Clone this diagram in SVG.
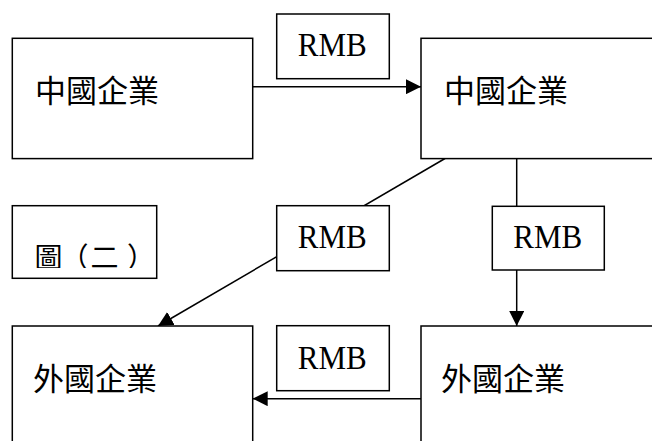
<svg xmlns="http://www.w3.org/2000/svg" width="652" height="441" viewBox="0 0 652 441">
<style>
.box{fill:#fff;stroke:#000;stroke-width:1.5}
.cn{font-family:"Noto Sans CJK TC","Noto Sans CJK SC",sans-serif;font-size:31px;fill:#000}
.fig{font-family:"Noto Sans CJK TC","Noto Sans CJK SC",sans-serif;font-size:28px;fill:#000}
.rmb{font-family:"Liberation Serif","Times New Roman",serif;font-size:33px;fill:#000}
.conn{stroke:#000;stroke-width:1.5;fill:none}
</style>
<defs>
<marker id="arr" markerUnits="userSpaceOnUse" markerWidth="15" markerHeight="15" refX="15" refY="7.5" orient="auto">
<path d="M0,0 L15,7.5 L0,15 z" fill="#000"/>
</marker>
<clipPath id="figclip"><rect x="12" y="205" width="145" height="63"/></clipPath>
</defs>
<g id="connectors">
<line class="conn" x1="252.7" y1="86.7" x2="421" y2="86.7" marker-end="url(#arr)"/>
<line class="conn" x1="516.7" y1="158.5" x2="516.7" y2="326" marker-end="url(#arr)"/>
<line class="conn" x1="445" y1="158.5" x2="158" y2="326" marker-end="url(#arr)"/>
<line class="conn" x1="421" y1="398.7" x2="252.7" y2="398.7" marker-end="url(#arr)"/>
</g>
<g id="cn1">
<rect class="box" x="12.3" y="38.3" width="240.4" height="120.3"/>
<text class="cn" x="35" y="102">中國企業</text>
</g>
<g id="cn2">
<rect class="box" x="421" y="38.3" width="260" height="120.3"/>
<text class="cn" x="444" y="102">中國企業</text>
</g>
<g id="fn1">
<rect class="box" x="12.3" y="326" width="240.4" height="130"/>
<text class="cn" x="33" y="389.5">外國企業</text>
</g>
<g id="fn2">
<rect class="box" x="421" y="326" width="260" height="130"/>
<text class="cn" x="441" y="389.5">外國企業</text>
</g>
<g id="rmb1">
<rect class="box" x="276.7" y="14" width="112.6" height="64.7"/>
<text class="rmb" x="297.7" y="56" textLength="69" lengthAdjust="spacingAndGlyphs">RMB</text>
</g>
<g id="rmb2">
<rect class="box" x="276.7" y="205.7" width="112.6" height="65"/>
<text class="rmb" x="297.7" y="247.7" textLength="69" lengthAdjust="spacingAndGlyphs">RMB</text>
</g>
<g id="rmb3">
<rect class="box" x="492.3" y="206.3" width="112" height="63.7"/>
<text class="rmb" x="513.3" y="248.3" textLength="69" lengthAdjust="spacingAndGlyphs">RMB</text>
</g>
<g id="rmb4">
<rect class="box" x="276.7" y="325.7" width="112.6" height="65"/>
<text class="rmb" x="297.7" y="369.3" textLength="69" lengthAdjust="spacingAndGlyphs">RMB</text>
</g>
<g id="fig">
<rect class="box" x="12.3" y="205.7" width="144.4" height="72.6"/>
<text class="fig" y="268" clip-path="url(#figclip)"><tspan x="34.5">圖</tspan><tspan x="60.5">（</tspan><tspan x="90.5">二</tspan><tspan x="127">）</tspan></text>
</g>
</svg>
